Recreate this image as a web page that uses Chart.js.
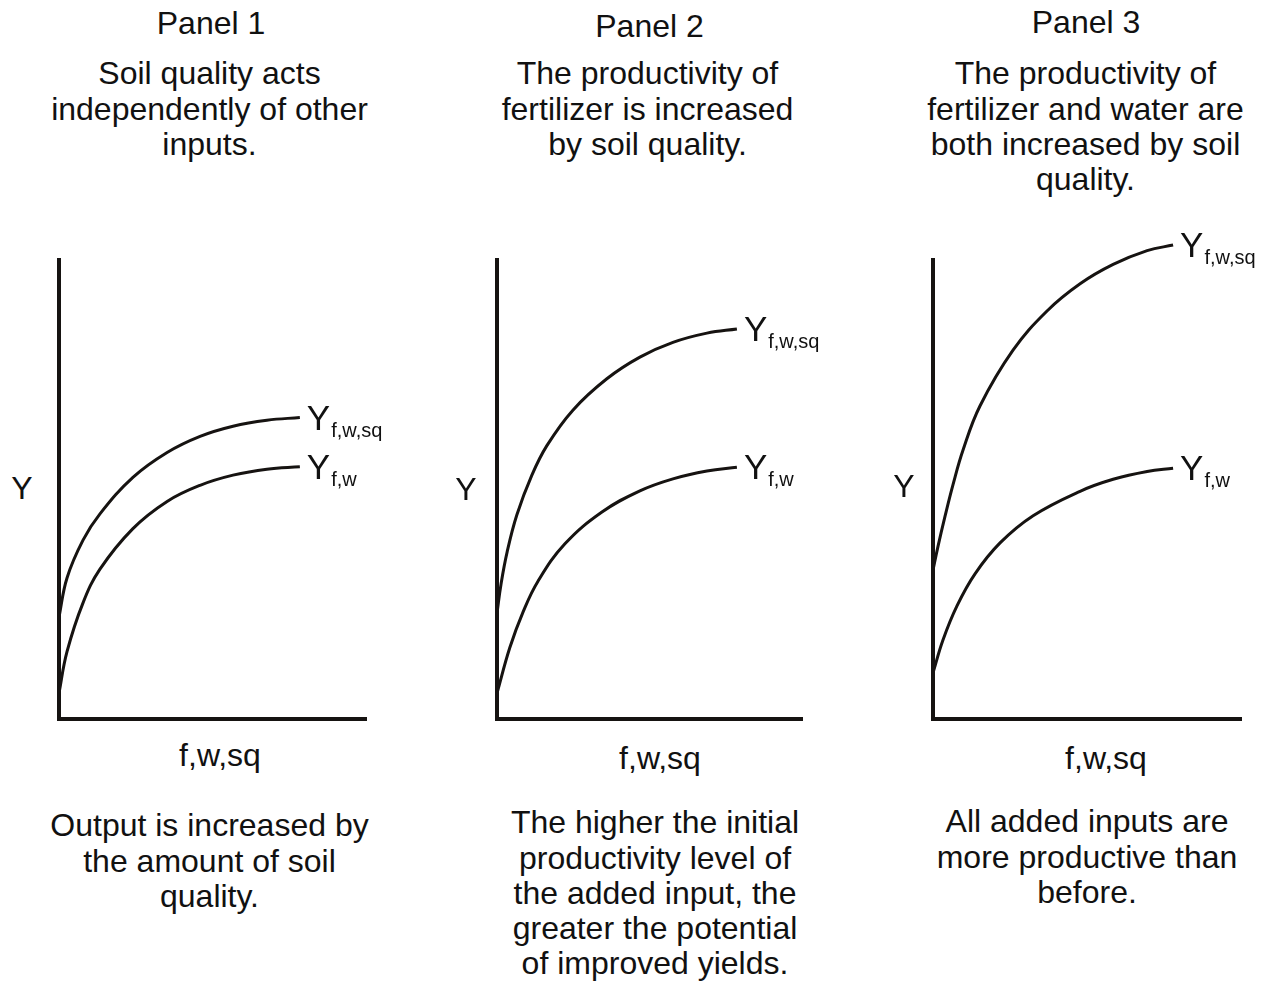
<!DOCTYPE html>
<html>
<head>
<meta charset="utf-8">
<title>Soil quality panels</title>
<script src="https://cdn.jsdelivr.net/npm/chart.js@4.4.1/dist/chart.umd.min.js"></script>
<style>
    html, body { margin: 0; padding: 0; background: #fff; overflow: hidden; }
    #page {
        position: relative;
        width: 1269px;
        height: 981px;
        font-family: "Liberation Sans", Arial, sans-serif;
        color: #111;
    }
    .txt {
        position: absolute;
        width: 500px;
        text-align: center;
        font-size: 32px;
        line-height: 35.2px;
        white-space: nowrap;
    }
    canvas { position: absolute; }
</style>
</head>
<body>
<div id="page"></div>
<script>
// ---- data (x = input amount, y = output, both on a 0-100 scale) ----
const panel1Sq = [[0, 22.1], [2.6, 30.6], [7.8, 38.8], [13.3, 44.5], [24.0, 52.4], [35.1, 57.8], [45.8, 61.3], [56.5, 63.5], [67.5, 64.8], [78.2, 65.4]];
const panel1Fw = [[0, 5.6], [2.6, 14.6], [7.8, 25.2], [13.3, 32.5], [24.0, 41.3], [35.1, 47.2], [45.8, 50.7], [56.5, 52.9], [67.5, 54.2], [78.2, 54.7]];

const panel2Sq = [[0, 23.0], [1.3, 29.2], [3.3, 36.2], [6.5, 44.3], [11.4, 52.9], [16.3, 59.3], [24.8, 67.0], [35.9, 73.8], [46.7, 78.5], [57.5, 81.7], [68.6, 83.7], [78.4, 84.6]];
const panel2Fw = [[0, 5.6], [4.2, 15.5], [8.5, 23.2], [13.4, 29.9], [22.2, 38.0], [34.3, 44.9], [46.7, 49.5], [57.5, 52.1], [68.6, 53.8], [78.4, 54.6]];

const panel3Sq = [[0, 32.3], [1.6, 37.4], [3.9, 44.0], [6.5, 50.9], [9.7, 58.3], [15.2, 67.9], [25.9, 80.0], [36.9, 88.5], [47.6, 94.4], [58.3, 98.6], [69.3, 101.6], [77.7, 102.8]];
const panel3Fw = [[0, 10.0], [3.2, 17.1], [7.8, 24.6], [13.6, 31.5], [21.7, 38.2], [32.4, 44.1], [47.6, 49.4], [58.3, 52.0], [69.3, 53.7], [77.7, 54.4]];

const axisCorner = [[0, 100], [0, 0], [100, 0]];

const panelTitles = ['Panel 1', 'Panel 2', 'Panel 3'];
const topNotes = [
    ['Soil quality acts', 'independently of other', 'inputs.'],
    ['The productivity of', 'fertilizer is increased', 'by soil quality.'],
    ['The productivity of', 'fertilizer and water are', 'both increased by soil', 'quality.']
];
const bottomNotes = [
    ['Output is increased by', 'the amount of soil', 'quality.'],
    ['The higher the initial', 'productivity level of', 'the added input, the', 'greater the potential', 'of improved yields.'],
    ['All added inputs are', 'more productive than', 'before.']
];
const yAxisLabel = 'Y';
const xAxisLabel = 'f,w,sq';
const sqLabel = { main: 'Y', sub: 'f,w,sq' };
const fwLabel = { main: 'Y', sub: 'f,w' };

// ---- layout ----
const INK = '#161311';
const FONT = '"Liberation Sans", Arial, sans-serif';
const PLOT_TOP = 258, PLOT_BOTTOM = 719;
const BASE = 28.6; // distance from a text line's top to its baseline
const NOTE_BASE = 85;
const panels = [
    { x0: 59,  w: 308, sq: panel1Sq, fw: panel1Fw, titleBase: 35, cx: 211, noteCx: 209.5, bottomCx: 209.5, bottomBase: 837, yLab: [22, 500], xLab: [220, 767], padRight: 140 },
    { x0: 497, w: 306, sq: panel2Sq, fw: panel2Fw, titleBase: 38, cx: 649.5, noteCx: 647.5, bottomCx: 655, bottomBase: 834, yLab: [466, 501], xLab: [660, 770], padRight: 140 },
    { x0: 933, w: 309, sq: panel3Sq, fw: panel3Fw, titleBase: 34, cx: 1086, noteCx: 1085.5, bottomCx: 1087, bottomBase: 833, yLab: [904, 498], xLab: [1106, 770], padRight: 25 }
];

const page = document.getElementById('page');

function addText(lines, cx, baseline) {
    const div = document.createElement('div');
    div.className = 'txt';
    div.style.left = (cx - 250) + 'px';
    div.style.top = (baseline - BASE) + 'px';
    div.innerHTML = lines.join('<br>');
    page.appendChild(div);
}

// draws "Y" with a subscript at the right end of a curve
const endLabelPlugin = {
    id: 'endLabels',
    afterDatasetsDraw(chart) {
        const ctx = chart.ctx;
        chart.data.datasets.forEach((ds, i) => {
            if (!ds.endLabel) return;
            const pts = chart.getDatasetMeta(i).data;
            const p = pts[pts.length - 1];
            ctx.save();
            ctx.fillStyle = '#111';
            ctx.textBaseline = 'alphabetic';
            ctx.font = '35px ' + FONT;
            const x = p.x + 7;
            ctx.fillText(ds.endLabel.main, x, p.y + 12);
            const w = ctx.measureText(ds.endLabel.main).width;
            ctx.font = '20px ' + FONT;
            ctx.fillText(ds.endLabel.sub, x + w + 1, p.y + 19);
            ctx.restore();
        });
    }
};

const toXY = arr => arr.map(([x, y]) => ({ x, y }));

panels.forEach((p, i) => {
    addText([panelTitles[i]], p.cx, p.titleBase);
    addText(topNotes[i], p.noteCx, NOTE_BASE);
    addText(bottomNotes[i], p.bottomCx, p.bottomBase);
    addText([yAxisLabel], p.yLab[0], p.yLab[1]);
    addText([xAxisLabel], p.xLab[0], p.xLab[1]);

    const padLeft = 20, padTop = 38, padBottom = 20;
    const canvas = document.createElement('canvas');
    canvas.width = padLeft + p.w + p.padRight;
    canvas.height = padTop + (PLOT_BOTTOM - PLOT_TOP) + padBottom;
    canvas.style.left = (p.x0 - padLeft) + 'px';
    canvas.style.top = (PLOT_TOP - padTop) + 'px';
    page.appendChild(canvas);

    const curve = (data, label) => ({
        data: toXY(data),
        endLabel: label,
        borderColor: INK,
        borderWidth: 3,
        pointRadius: 0,
        tension: 0.4,
        fill: false,
        clip: false
    });

    new Chart(canvas.getContext('2d'), {
        type: 'line',
        data: {
            datasets: [
                {
                    data: toXY(axisCorner),
                    borderColor: INK,
                    borderWidth: 4,
                    borderJoinStyle: 'miter',
                    borderCapStyle: 'butt',
                    pointRadius: 0,
                    tension: 0,
                    fill: false,
                    clip: false
                },
                curve(p.sq, sqLabel),
                curve(p.fw, fwLabel)
            ]
        },
        options: {
            responsive: false,
            animation: false,
            events: [],
            elements: { line: { capBezierPoints: false } },
            layout: { padding: { left: padLeft, right: p.padRight, top: padTop, bottom: padBottom } },
            plugins: { legend: { display: false }, tooltip: { enabled: false } },
            scales: {
                x: { type: 'linear', min: 0, max: 100, display: false },
                y: { type: 'linear', min: 0, max: 100, display: false }
            }
        },
        plugins: [endLabelPlugin]
    });
});
</script>
</body>
</html>
